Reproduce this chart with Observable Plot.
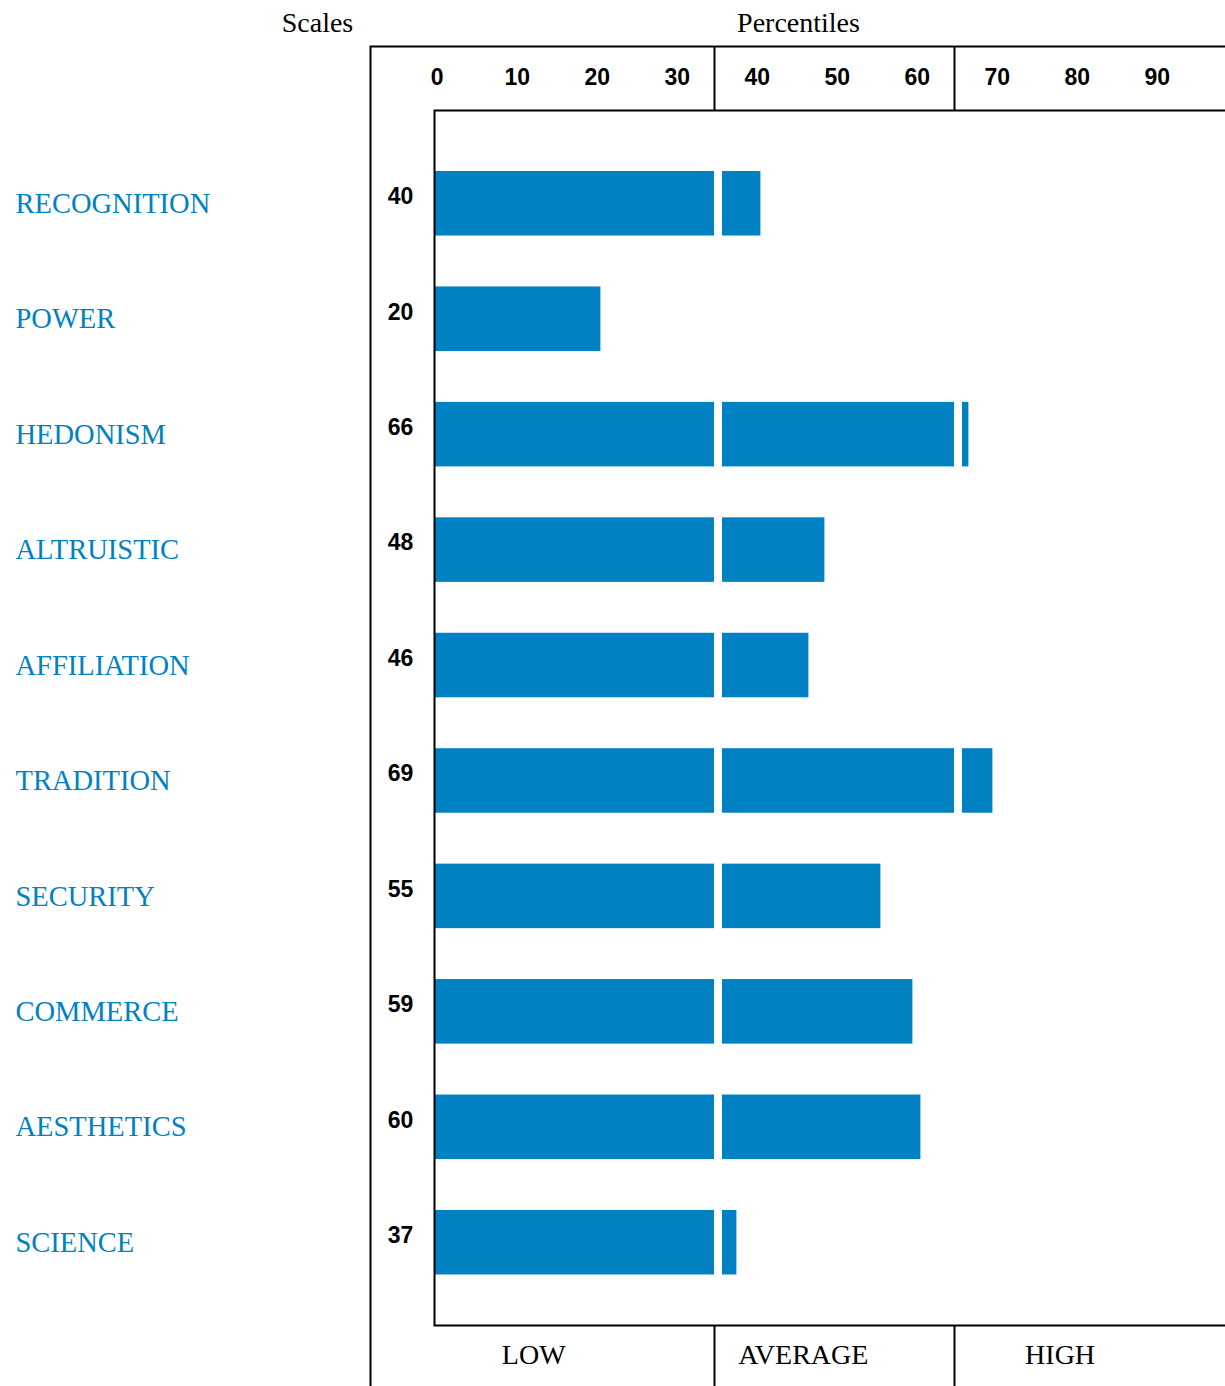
<!DOCTYPE html>
<html>
<head>
<meta charset="utf-8">
<script src="https://cdn.jsdelivr.net/npm/d3@7"></script>
<script src="https://cdn.jsdelivr.net/npm/@observablehq/plot@0.6"></script>
<style>
  html, body { margin: 0; padding: 0; overflow: hidden; background: #fff; }
  #chart svg { display: block; overflow: hidden; }
</style>
</head>
<body>
<div id="chart"></div>
<script>
// ---- data ----
const scales = ["RECOGNITION", "POWER", "HEDONISM", "ALTRUISTIC", "AFFILIATION",
                "TRADITION", "SECURITY", "COMMERCE", "AESTHETICS", "SCIENCE"];
const percentiles = [40, 20, 66, 48, 46, 69, 55, 59, 60, 37];
const tickValues = [0, 10, 20, 30, 40, 50, 60, 70, 80, 90];
const levelNames = ["LOW", "AVERAGE", "HIGH"];
const levelBreaks = [0, 35, 65, 100];

// ---- layout constants ----
const W = 1225, H = 1386;
const mL = 434, mT = 110, mB = 61, mR = 0;
const plotH = H - mT - mB;
const xMax = (W - mL - mR) / 8; // 8 px per percentile
const blue = "#0081C2";
const ink = "#000";
const serif = "Liberation Serif, Times New Roman, serif";
const sans = "Liberation Sans, Arial, sans-serif";
const segGap = 1;      // gap between level segments (percentile units)
const barCap = 0.8;    // bar reaches slightly past the percentile cell
const levelLabelX = [12.4, 46.1, 78.2];

const rows = scales.map((s, i) => ({scale: s, value: percentiles[i]}));
const segments = [];
rows.forEach(r => {
  levelNames.forEach((lv, j) => {
    const from = levelBreaks[j] + (j > 0 ? segGap : 0);
    const to = Math.min(r.value + barCap, levelBreaks[j + 1]);
    if (to > from) segments.push({scale: r.scale, level: lv, x1: from, x2: to});
  });
});
const levels = levelNames.map((n, j) => ({name: n, at: levelLabelX[j]}));

const chart = Plot.plot({
  width: W, height: H,
  marginLeft: mL, marginTop: mT, marginBottom: mB, marginRight: mR,
  style: {background: "#fff", overflow: "hidden"},
  x: {domain: [0, xMax], axis: null},
  y: {type: "band", domain: scales, paddingInner: 0.441, paddingOuter: 0.483, align: 0.547,
      round: false, axis: null},
  marks: [
    // bars by level
    Plot.barX(segments, {x1: "x1", x2: "x2", y: "scale", fill: blue}),
    // outer frame (top + left visible)
    Plot.frame({stroke: ink, strokeWidth: 2, insetTop: -64, insetLeft: -64, insetRight: -10, insetBottom: -70}),
    // inner plot frame (left/top/bottom visible)
    Plot.frame({stroke: ink, strokeWidth: 2, insetRight: -10}),
    // level separators in header and footer bands
    Plot.ruleX(levelBreaks.slice(1, 3), {stroke: ink, strokeWidth: 2, insetTop: -64, insetBottom: plotH}),
    Plot.ruleX(levelBreaks.slice(1, 3), {stroke: ink, strokeWidth: 2, insetTop: plotH, insetBottom: -70}),
    // percentile tick labels
    Plot.text(tickValues, {x: d => d, text: d => String(d), frameAnchor: "top", lineAnchor: "middle",
      textAnchor: "middle", dy: -33, dx: 2.7,
      fontFamily: sans, fontWeight: "bold", fontSize: 23, fill: ink}),
    // headers
    Plot.text(["Scales"], {frameAnchor: "top-left", lineAnchor: "middle", textAnchor: "middle",
      dx: 317 - mL, dy: -87, text: d => d, fontFamily: serif, fontSize: 28, fill: ink}),
    Plot.text(["Percentiles"], {frameAnchor: "top-left", lineAnchor: "middle", textAnchor: "middle",
      dx: 798 - mL, dy: -87, text: d => d, fontFamily: serif, fontSize: 28, fill: ink}),
    // scale names
    Plot.text(rows, {y: "scale", text: "scale", frameAnchor: "left", dx: 15 - mL, textAnchor: "start",
      lineAnchor: "middle", fontFamily: serif, fontSize: 28.5, fill: blue}),
    // values
    Plot.text(rows, {y: "scale", text: d => String(d.value), frameAnchor: "left", textAnchor: "middle",
      lineAnchor: "middle", dx: -34, dy: -7,
      fontFamily: sans, fontWeight: "bold", fontSize: 23, fill: ink}),
    // level names at bottom
    Plot.text(levels, {x: "at", text: "name", frameAnchor: "bottom", lineAnchor: "middle", textAnchor: "middle",
      dy: 30, fontFamily: serif, fontSize: 28, fill: ink})
  ]
});
document.getElementById("chart").appendChild(chart);
</script>
</body>
</html>
